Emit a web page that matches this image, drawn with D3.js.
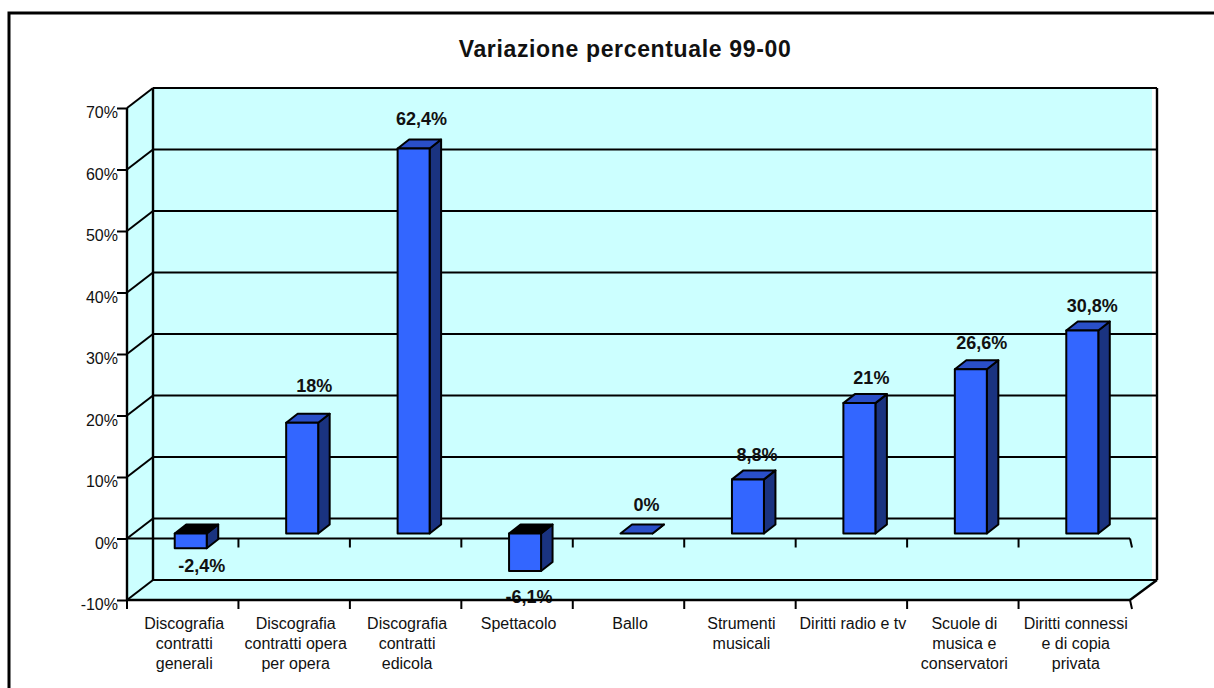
<!DOCTYPE html>
<html>
  <head>
    <title>Variazione percentuale 99-00</title>
    <script src="https://d3js.org/d3.v7.min.js"></script>
    <style>
      body { margin: 0; background: #fff; }
      svg { display: block; }
      text { font-family: "Liberation Sans", Arial, sans-serif; fill: #111; }
    </style>
  </head>
  <body>
    <script>

      // chart data
      var categories = [
        ["Discografia", "contratti", "generali"],
        ["Discografia", "contratti opera", "per opera"],
        ["Discografia", "contratti", "edicola"],
        ["Spettacolo"],
        ["Ballo"],
        ["Strumenti", "musicali"],
        ["Diritti radio e tv"],
        ["Scuole di", "musica e", "conservatori"],
        ["Diritti connessi", "e di copia", "privata"]
      ];
      var values = [-2.4, 18, 62.6, -6.1, 0, 8.8, 21.2, 26.7, 33];
      var value_labels = ["-2,4%", "18%", "62,4%", "-6,1%", "0%", "8,8%", "21%", "26,6%", "30,8%"];
      var y_ticks = [-10, 0, 10, 20, 30, 40, 50, 60, 70];

      var w = 1214;
      var h = 688;

      // front plane of the fake 3d box
      var left = 127;
      var right = 1130;
      var top_y = 108;
      var bottom_y = 600;

      // depth of the back wall
      var depth_x = 26;
      var depth_y = -20;

      // bar geometry
      var bar_w = 32;
      var bar_dx = 11.5;
      var bar_dy = -9;
      var shift_x = 8;
      var shift_y = -5;

      var svg = d3.select("body")
        .append("svg")
        .attr("width", w)
        .attr("height", h);

      var y_scale = d3.scaleLinear()
        .domain([-10, 70])
        .range([bottom_y, top_y]);

      var x_scale = d3.scaleBand()
        .domain(d3.range(categories.length))
        .range([left, right]);

      function line(x1, y1, x2, y2, width) {
        svg.append("line")
          .attr("x1", x1).attr("y1", y1)
          .attr("x2", x2).attr("y2", y2)
          .attr("stroke", "#000")
          .attr("stroke-width", width || 2);
      }

      function poly(points, fill) {
        svg.append("polygon")
          .attr("points", points.join(" "))
          .attr("fill", fill)
          .attr("stroke", "#000")
          .attr("stroke-width", 2)
          .attr("stroke-linejoin", "round");
      }

      // outer frame, open on the right and at the bottom
      svg.append("path")
        .attr("d", "M9,688V13H1214")
        .attr("fill", "none")
        .attr("stroke", "#000")
        .attr("stroke-width", 3);

      // title
      svg.append("text")
        .attr("x", 625)
        .attr("y", 57)
        .attr("text-anchor", "middle")
        .style("font-size", "23px")
        .style("font-weight", "bold")
        .style("letter-spacing", "0.65px")
        .text("Variazione percentuale 99-00");

      // walls and floor
      var wall = "#CCFFFF";
      var back_top = top_y + depth_y;
      var back_bottom = bottom_y + depth_y;

      svg.append("rect")
        .attr("x", left + depth_x)
        .attr("y", back_top)
        .attr("width", 999)
        .attr("height", back_bottom - back_top)
        .attr("fill", wall);

      svg.append("polygon")
        .attr("points", [[left, top_y], [left + depth_x, back_top], [left + depth_x, back_bottom], [left, bottom_y]].join(" "))
        .attr("fill", wall);

      svg.append("polygon")
        .attr("points", [[left, bottom_y], [left + depth_x, back_bottom], [right + depth_x + 1, back_bottom], [right, bottom_y]].join(" "))
        .attr("fill", wall);

      // gridlines on the back wall and the left wall
      y_ticks.forEach(function(t) {
        var y = y_scale(t);
        line(left, y, left + depth_x, y + depth_y);
        line(left + depth_x, y + depth_y, right + depth_x + 1, y + depth_y);
      });

      line(left, top_y, left, bottom_y, 2.4);
      line(left + depth_x, back_top, left + depth_x, back_bottom, 2.4);
      line(right + depth_x + 1, back_top, right + depth_x + 1, back_bottom, 2.4);
      line(right, bottom_y, right + depth_x + 1, back_bottom, 2.4);

      // zero line with its category ticks
      var y_zero = y_scale(0);
      line(left, y_zero, right, y_zero);

      // bars
      categories.forEach(function(c, i) {
        var v = values[i];
        var x0 = x_scale(i) + shift_x + (x_scale.bandwidth() - bar_w) / 2;
        var x1 = x0 + bar_w;
        var base = y_zero + shift_y;
        var end = y_scale(v) + shift_y;
        var y_up = Math.min(base, end);
        var y_down = Math.max(base, end);

        // the top of a negative bar is in shadow
        var top_fill = v < 0 ? "#000" : "#2A4FC8";

        poly([[x1, y_up], [x1 + bar_dx, y_up + bar_dy], [x1 + bar_dx, y_down + bar_dy], [x1, y_down]], "#1A3380");
        poly([[x0, y_up], [x0 + bar_dx, y_up + bar_dy], [x1 + bar_dx, y_up + bar_dy], [x1, y_up]], top_fill);
        if (v != 0) {
          poly([[x0, y_up], [x1, y_up], [x1, y_down], [x0, y_down]], "#3366FF");
        }
      });

      // value labels, some of them were moved by hand in the original
      var nudge_x = d3.scaleOrdinal().domain(d3.range(9)).range([2, 3, -1, -5, 1, 0, 3, 2, 1]);
      var nudge_y = d3.scaleOrdinal().domain(d3.range(9)).range([1, -12, -5, 0, -4, 1, 0, -1, 0]);

      categories.forEach(function(c, i) {
        var v = values[i];
        var label_y = v < 0 ? y_scale(v) + 17.6 : y_scale(v) - 24;
        // the lowest label sits further down and runs into the axis line
        if (v < -5) label_y += 9;
        svg.append("text")
          .attr("x", x_scale(i) + x_scale.bandwidth() / 2 + shift_x + 9 + nudge_x(i))
          .attr("y", label_y + nudge_y(i))
          .attr("text-anchor", "middle")
          .style("font-size", "18px")
          .style("font-weight", "bold")
          .text(value_labels[i]);
      });

      // front axis line drawn after the labels
      line(left, bottom_y, right, bottom_y, 2.6);

      // category ticks at the band edges, on the zero line and the front edge
      d3.range(categories.length + 1).forEach(function(i) {
        var x = left + i * x_scale.step();
        var lean = i == categories.length ? 2 : 0;
        if (i > 0) line(x, y_zero, x + lean, y_zero + 9);
        line(x, bottom_y, x + lean, bottom_y + 9);
      });

      // y axis
      var y_axis = d3.axisLeft(y_scale)
        .tickValues(y_ticks)
        .tickSize(10)
        .tickFormat(function(d) { return d + "%"; });

      var y_g = svg.append("g")
        .attr("transform", "translate(" + left + ",0)")
        .call(y_axis);

      y_g.select(".domain").remove();
      y_g.selectAll("line").attr("stroke", "#000").attr("stroke-width", 2);
      y_g.selectAll("text")
        .attr("x", -9)
        .attr("dy", "0.6em")
        .style("font-size", "16px")
        .attr("text-anchor", "end");

      // category labels
      var x_axis = d3.axisBottom(x_scale)
        .tickSize(0)
        .tickFormat("");

      var x_g = svg.append("g")
        .attr("transform", "translate(0," + bottom_y + ")")
        .call(x_axis);

      x_g.select(".domain").remove();
      x_g.selectAll(".tick").each(function(d) {
        var t = d3.select(this).select("text")
          .attr("text-anchor", "middle")
          .attr("y", 29)
          .attr("dy", 0)
          .style("font-size", "16px");
        categories[d].forEach(function(part, j) {
          t.append("tspan")
            .attr("x", 1.5)
            .attr("y", 29 + j * 20)
            .text(part);
        });
      });

    </script>
  </body>
</html>
